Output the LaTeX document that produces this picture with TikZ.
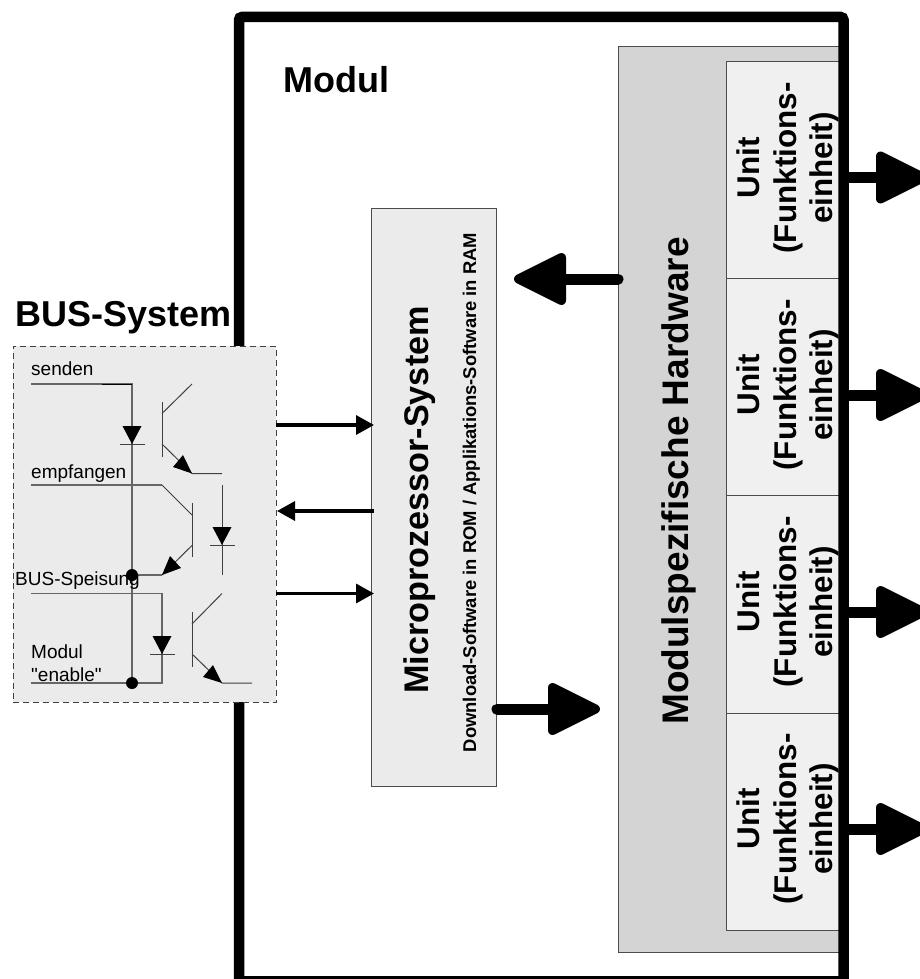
\documentclass[tikz,border=0pt]{standalone}
\usepackage{fontspec}
\setmainfont{Liberation Sans}[Ligatures=TeXOff]
\usetikzlibrary{arrows.meta}
\tikzset{
  x=1pt,y=-1pt,
  panel/.style={draw=black!70,line width=0.9pt,inner sep=0pt,anchor=north west},
  hwpanel/.style={panel,fill=black!17},
  unitpanel/.style={panel,fill=black!6},
  cpupanel/.style={panel,fill=black!8},
  buspanel/.style={panel,fill=black!8,draw=black!75,line width=0.8pt,dash pattern=on 6pt off 4pt},
  bigtext/.style={font=\fontsize{36}{38}\selectfont\bfseries,inner sep=0pt},
  unittext/.style={font=\fontsize{31.4}{36.5}\selectfont\bfseries,inner sep=0pt,rotate=90,align=center},
  smalltext/.style={font=\fontsize{19}{23}\selectfont,inner sep=0pt,anchor=west},
  thinarrow/.style={line width=3.4pt,-{Triangle[length=18pt,width=19pt]}},
  bigarrow/.style={line width=11pt,-{Triangle[length=58pt,width=55pt,line width=9pt,round]}},
  wire/.style={line width=1pt,black!75},
  graywire/.style={line width=1.7pt,black!60},
  dot/.style={circle,fill=black,minimum size=12pt,inner sep=0pt},
}
\begin{document}
\begin{tikzpicture}
\useasboundingbox (0,0) rectangle (920,979);
\clip (0,0) rectangle (920,979);
\fill[white] (0,0) rectangle (920,979);
% hardware
\node[hwpanel,minimum width=221pt,minimum height=905.5pt] (hw) at (618,46.5) {};
\node[unitpanel,minimum width=113pt,minimum height=216.5pt] (u1) at (726,61.5) {};
\node[unitpanel,minimum width=113pt,minimum height=217pt] (u2) at (726,278) {};
\node[unitpanel,minimum width=113pt,minimum height=218pt] (u3) at (726,495) {};
\node[unitpanel,minimum width=113pt,minimum height=217pt] (u4) at (726,713) {};
\foreach \n/\y in {1/168,2/385,3/602,4/819}{
  \node[unittext] (ut\n) at (788,\y) {Unit\\(Funktions-\\einheit)};
}
\node[bigtext,rotate=90,anchor=base,font=\fontsize{37}{39}\selectfont\bfseries] (hwt) at (688,481) {Modulspezifische Hardware};
% frame
\draw[line width=10.5pt,rounded corners=3pt] (239,1000) -- (239,17) -- (843.5,17) -- (843.5,1000) ;
\draw[line width=10.5pt] (239,981) -- (843.5,981);
\node[bigtext,anchor=west] (modul) at (283,80) {Modul};
% output arrows
\foreach \n/\y in {1/177.5,2/395,3/612,4/829}{
  \coordinate (os\n) at (849,\y);
  \coordinate (oe\n) at (928,\y);
  \draw[bigarrow] (os\n) -- (oe\n);
}
% cpu
\node[cpupanel,minimum width=125pt,minimum height=578pt] (cpu) at (371,208) {};
\node[bigtext,rotate=90,anchor=base,font=\fontsize{34.2}{36}\selectfont\bfseries] (cput) at (428,500) {Microprozessor-System};
\node[rotate=90,anchor=base,inner sep=0pt,font=\fontsize{18.4}{20}\selectfont\bfseries] (dl) at (476,492.5) {Download-Software in ROM / Applikations-Software in RAM};
\coordinate (a1) at (618,279); \coordinate (a2) at (514,279);
\draw[bigarrow,line cap=round] (a1) -- (a2);
\coordinate (b1) at (497,709); \coordinate (b2) at (600,709);
\draw[bigarrow,line cap=round] (b1) -- (b2);
% bus
\node[buspanel,minimum width=263.5pt,minimum height=356pt] (bus) at (12.5,346) {};
\node[bigtext,anchor=west] (bust) at (15,318) {BUS-System};
\coordinate (t1) at (276,425); \coordinate (t2) at (374,425);
\coordinate (t3) at (374,511); \coordinate (t4) at (277,511);
\coordinate (t5) at (276,593.5); \coordinate (t6) at (374,593.5);
\draw[thinarrow] (t1) -- (t2);
\draw[thinarrow] (t3) -- (t4);
\draw[thinarrow] (t5) -- (t6);
% circuit
\draw[graywire] (31,384) -- (132,384) -- (132,683);
\draw[wire,black] (102,384) -- (132,384);
\draw[graywire] (31,485) -- (162,485);
\draw[wire] (162,485) -- (192,515);
\draw[graywire] (31,593.5) -- (162,593.5) -- (162,683) -- (132,683) -- (31,683);
\draw[graywire] (132,575) -- (162,575);
% diodes
\fill (122.5,426) -- (141.5,426) -- (132,444) -- cycle;
\draw[wire] (120,444) -- (145,444);
\draw[wire] (222,485) -- (222,575);
\fill (212.5,527) -- (231.5,527) -- (222,545) -- cycle;
\draw[wire] (210,545) -- (235,545);
\fill (152.5,636) -- (171.5,636) -- (162,654) -- cycle;
\draw[wire] (150,654) -- (175,654);
% transistors
\draw[wire] (162,402) -- (162,457);
\draw[wire] (162,413.5) -- (192,384);
\draw[wire] (162,444) -- (192,473.5) -- (222,473.5);
\fill (192,473.5) -- (183,455) -- (173,467) -- cycle;
\draw[wire] (192,503) -- (192,557);
\draw[wire] (192,545.5) -- (162,575);
\fill (162,575) -- (170,556) -- (181,568) -- cycle;
\draw[wire] (192,612) -- (192,667);
\draw[wire] (192,624) -- (222,593.5);
\draw[wire] (192,654) -- (222,683) -- (252,683);
\fill (222,683) -- (213,665) -- (203,677) -- cycle;
\node[dot] (d1) at (132,575) {};
\node[dot] (d2) at (132,683) {};
\node[smalltext] (l1) at (31,369) {senden};
\node[smalltext] (l2) at (31,474) {empfangen};
\node[smalltext] (l3) at (15,581) {BUS-Speisung};
\node[smalltext] (l4) at (31,652) {Modul};
\node[smalltext] (l5) at (31,675) {"enable"};
\end{tikzpicture}
\end{document}
